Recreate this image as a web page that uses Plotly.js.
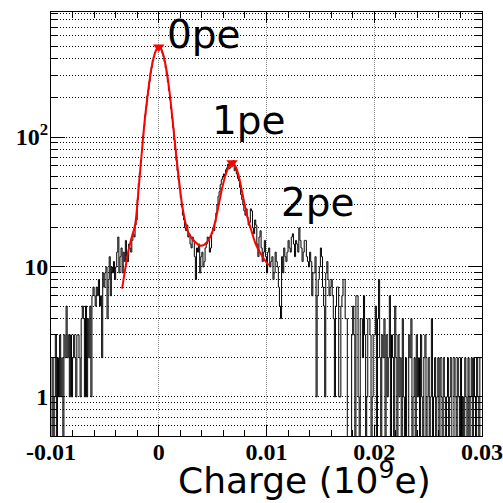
<!DOCTYPE html>
<html>
<head>
<meta charset="utf-8">
<script src="https://cdn.plot.ly/plotly-3.0.1.min.js"></script>
<style>html,body{margin:0;padding:0;background:#fff;}#chart{width:503px;height:503px;}</style>
</head>
<body>
<div id="chart"></div>
<script>
// Histogram: bins of width 0.0001 from -0.01 to 0.03 (400 bins), counts per bin
const binStart = -0.01;
const binWidth = 0.0001;
const counts = [
  0,2,0,1,3,0,2,1,3,1,
  2,0,3,2,5,2,3,1,3,1,
  2,3,2,1,3,3,2,1,4,5,
  4,1,5,1,4,2,5,1,6,7,
  6,5,7,6,8,5,6,2,9,7,
  9,10,4,8,12,6,10,9,11,8,
  10,13,17,9,12,14,9,13,11,16,
  12,11,15,14,13,16,18,17,21,23,
  33,44,53,66,80,102,121,148,172,207,
  232,268,312,343,388,412,447,465,487,490,
  493,482,470,440,415,380,340,300,265,228,
  195,165,140,118,95,80,66,55,47,40,
  34,29,25,23,20,19,21,17,18,15,
  14,17,16,12,8,14,13,15,9,12,
  13,10,11,14,15,17,16,13,14,18,
  20,19,22,26,30,35,38,43,47,49,
  52,50,56,58,62,57,58,64,60,66,
  55,58,52,48,46,41,36,33,30,27,
  25,28,24,21,22,28,27,20,18,23,
  21,15,12,17,19,14,11,13,16,12,
  9,13,14,10,11,12,8,9,13,11,
  10,7,5,4,12,9,14,12,11,13,
  16,14,13,17,18,15,12,16,15,13,
  20,16,14,11,13,16,16,12,11,10,
  13,11,6,9,9,12,1,6,8,10,
  14,12,7,5,1,9,11,8,6,7,
  8,6,4,1,5,7,7,1,1,5,
  6,8,8,4,4,0,0,0,0,3,
  5,3,0,6,6,1,0,4,4,2,
  6,3,0,1,4,4,3,0,1,3,
  3,5,0,4,8,2,0,3,2,4,
  0,3,1,2,6,0,3,2,0,5,
  2,0,3,1,2,0,4,1,0,2,
  0,0,3,2,4,0,1,2,0,3,
  1,2,0,3,1,0,2,3,0,1,
  2,0,1,4,0,1,2,0,1,2,
  0,2,1,0,2,1,0,1,2,0,
  1,2,0,0,2,1,0,2,1,0,
  2,0,1,0,2,1,0,2,0,1,
  2,0,2,1,0,2,1,0,2,2
];

// Fit curve
const fitX = [-0.0034,-0.0031,-0.0028,-0.0025,-0.0022,-0.0019,-0.0016,-0.0013,-0.0010,-0.0007,
  -0.0004,-0.0002,0,0.0002,0.0004,0.0007,0.0010,0.0013,0.0016,0.0019,
  0.0022,0.0025,0.0028,0.0031,0.0034,0.0038,0.0042,0.0046,0.0050,0.0053,
  0.0056,0.0059,0.0062,0.0065,0.0068,0.0071,0.0074,0.0077,0.0080,0.0083,
  0.0086,0.0090,0.0094,0.0098,0.0102];
const fitY = [6.8,9.8,13.5,17,21,37,72,135,220,330,
  430,475,492,478,435,335,222,130,75,45,
  29,21.5,18,16.5,15.5,14.6,14.8,16,19,23.5,
  31,41,51,59,63,60,51,39,29.5,23,
  19,15,12.9,11.4,10.3];

// Peak markers
const peakX = [0, 0.0068];
const peakY = [492, 63.5];

// Peak labels
const peakLabels = ['0pe', '1pe', '2pe'];
const labelX = [0.0006, 0.0048, 0.0112];
const labelY = [620, 135, 31.4];

// Axis ticks
const xTickVals = [-0.01, 0, 0.01, 0.02, 0.03];
const xTickText = ['-0.01', '0', '0.01', '0.02', '0.03'];
const yTickVals = [1, 10, 100];
const yTickText = ['1', '10', '10<sup>2</sup>'];
const yMinorVals = [0.5,0.6,0.7,0.8,0.9, 2,3,4,5,6,7,8,9, 20,30,40,50,60,70,80,90, 200,300,400,500,600,700,800,900];

const binCenters = counts.map((c, i) => binStart + binWidth * (i + 0.5));
const histY = counts.map(c => c > 0 ? c : 0.05);

const traces = [
  {x: binCenters, y: histY, type: 'scatter', mode: 'lines',
   line: {color: 'black', width: 1, shape: 'hvh'}, hoverinfo: 'skip'},
  {x: fitX, y: fitY, type: 'scatter', mode: 'lines',
   line: {color: '#ff0000', width: 2, shape: 'spline'}, hoverinfo: 'skip'},
  {x: peakX, y: peakY, type: 'scatter', mode: 'markers',
   marker: {symbol: 'triangle-down', color: '#ff0000', size: 10}, hoverinfo: 'skip'}
];

const annotations = peakLabels.map((t, i) => ({
  text: t, x: labelX[i], y: Math.log10(labelY[i]), xref: 'x', yref: 'y',
  xanchor: 'left', yanchor: 'middle', showarrow: false,
  font: {family: 'DejaVu Sans', size: 39, color: 'black'}
}));
annotations.push({
  text: 'Charge (10<sup>9</sup>e)', xref: 'paper', yref: 'paper',
  x: 0.887, y: -0.098, xanchor: 'right', yanchor: 'middle', showarrow: false,
  font: {family: 'DejaVu Sans', size: 36, color: 'black'}
});

const layout = {
  width: 503, height: 503,
  margin: {l: 51, r: 21, t: 12, b: 67},
  paper_bgcolor: 'white', plot_bgcolor: 'white',
  showlegend: false,
  xaxis: {
    range: [-0.01, 0.03], tickmode: 'array', tickvals: xTickVals, ticktext: xTickText,
    ticks: 'inside', ticklen: 11, tickwidth: 1, tickcolor: 'black',
    showline: true, linecolor: 'black', linewidth: 1, mirror: 'allticks',
    showgrid: true, gridcolor: '#888', griddash: '1px,1px', gridwidth: 1,
    zeroline: false, ticklabelstandoff: -6,
    tickfont: {family: 'Liberation Serif', size: 24, color: 'black', weight: 'bold'},
    minor: {dtick: 0.002, tick0: 0, ticks: 'inside', ticklen: 6, tickcolor: 'black', showgrid: false}
  },
  yaxis: {
    type: 'log', range: [-0.301, 2.962], tickmode: 'array', tickvals: yTickVals, ticktext: yTickText,
    ticks: 'inside', ticklen: 14, tickwidth: 1, tickcolor: 'black',
    showline: true, linecolor: 'black', linewidth: 1, mirror: 'allticks',
    showgrid: true, gridcolor: 'black', griddash: '1px,2px', gridwidth: 1,
    zeroline: false, ticklabelstandoff: -3,
    tickfont: {family: 'Liberation Serif', size: 24, color: 'black', weight: 'bold'},
    minor: {tickmode: 'array', tickvals: yMinorVals, ticks: 'inside', ticklen: 7, tickcolor: 'black',
            showgrid: true, gridcolor: 'black', griddash: '1px,2px', gridwidth: 1}
  },
  annotations: annotations
};

Plotly.newPlot('chart', traces, layout, {displayModeBar: false, staticPlot: true});
</script>
</body>
</html>
